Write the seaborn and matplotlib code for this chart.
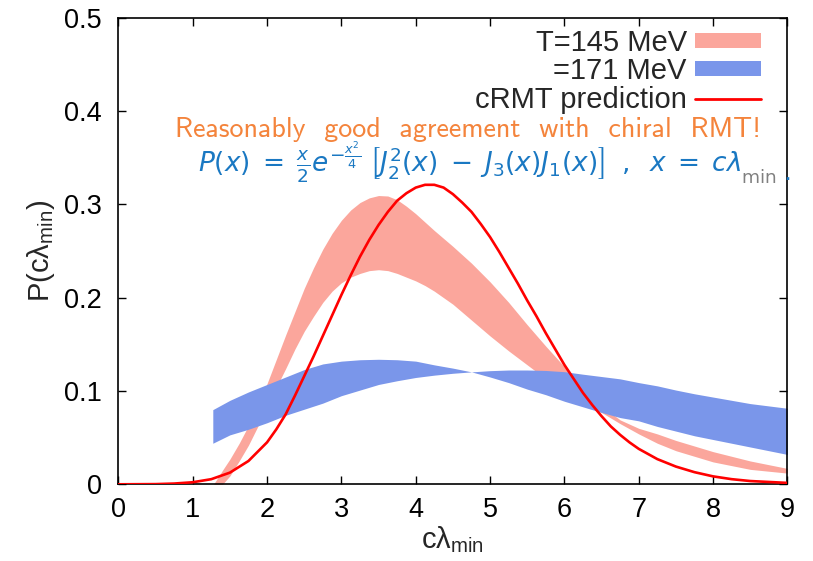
import matplotlib
matplotlib.use('Agg')
import matplotlib.pyplot as plt
from matplotlib.patches import Patch
from matplotlib.lines import Line2D
import seaborn as sns

# cRMT prediction (red curve)
rmt_x = [0.0, 0.5, 0.75, 1.0, 1.25, 1.5, 1.75, 2.0, 2.125, 2.25, 2.375, 2.5, 2.625, 2.75,
         2.875, 3.0, 3.125, 3.25, 3.375, 3.5, 3.625, 3.75, 3.875, 4.0, 4.125, 4.25,
         4.375, 4.5, 4.625, 4.75, 4.875, 5.0, 5.125, 5.25, 5.375, 5.5, 5.625, 5.75,
         5.875, 6.0, 6.125, 6.25, 6.375, 6.5, 6.625, 6.75, 6.875, 7.0, 7.25, 7.5, 7.75,
         8.0, 8.25, 8.5, 8.75, 9.0]
rmt_y = [0.0, 0.0002, 0.0008, 0.0022, 0.0055, 0.0125, 0.025, 0.045, 0.059, 0.075, 0.095,
         0.116, 0.137, 0.159, 0.181, 0.203, 0.224, 0.244, 0.262, 0.278, 0.292, 0.304,
         0.312, 0.318, 0.321, 0.321, 0.318, 0.311, 0.302, 0.292, 0.279, 0.265, 0.249,
         0.232, 0.215, 0.197, 0.180, 0.162, 0.145, 0.128, 0.113, 0.098, 0.085, 0.073,
         0.062, 0.053, 0.045, 0.038, 0.027, 0.019, 0.013, 0.0085, 0.0055, 0.0035,
         0.0025, 0.0015]

# T=145 MeV band
t145_x = [1.28, 1.40, 1.5, 1.625, 1.75, 1.875, 2.0, 2.125, 2.25, 2.375, 2.5, 2.625, 2.75,
          2.875, 3.0, 3.125, 3.25, 3.375, 3.5, 3.625, 3.75, 3.875, 4.0, 4.125, 4.25, 4.5,
          4.75, 5.0, 5.25, 5.5, 5.75, 6.0, 6.25, 6.5, 6.75, 7.0, 7.25, 7.5, 7.75, 8.0,
          8.25, 8.5, 8.75, 9.0]
t145_hi = [0.0, 0.015, 0.027, 0.044, 0.063, 0.085, 0.108, 0.134, 0.160, 0.185, 0.210,
           0.232, 0.252, 0.269, 0.283, 0.294, 0.302, 0.307, 0.3095, 0.309, 0.305, 0.298,
           0.290, 0.281, 0.272, 0.255, 0.237, 0.217, 0.195, 0.171, 0.148, 0.126, 0.104,
           0.084, 0.069, 0.060, 0.054, 0.047, 0.041, 0.035, 0.030, 0.025, 0.021, 0.017]
t145_lo = [0.0, 0.0, 0.009, 0.025, 0.042, 0.062, 0.083, 0.104, 0.124, 0.145, 0.164,
           0.180, 0.195, 0.207, 0.216, 0.222, 0.226, 0.229, 0.230, 0.229, 0.226, 0.222,
           0.218, 0.213, 0.207, 0.193, 0.176, 0.159, 0.143, 0.128, 0.113, 0.100, 0.088,
           0.077, 0.065, 0.054, 0.044, 0.036, 0.030, 0.024, 0.020, 0.016, 0.014, 0.012]

# T=171 MeV band (the two edges cross near 4.75)
t171_x = [1.27, 1.5, 1.75, 2.0, 2.25, 2.5, 2.75, 3.0, 3.25, 3.5, 3.75, 4.0, 4.25, 4.5,
          4.75, 5.0, 5.25, 5.5, 5.75, 6.0, 6.25, 6.5, 6.75, 7.0, 7.25, 7.5, 7.75, 8.0,
          8.25, 8.5, 8.75, 9.0]
t171_a = [0.080, 0.090, 0.099, 0.107, 0.115, 0.123, 0.129, 0.132, 0.1335, 0.134, 0.1335,
          0.132, 0.128, 0.1245, 0.1205, 0.115, 0.109, 0.102, 0.096, 0.089, 0.083, 0.077,
          0.0715, 0.068, 0.062, 0.057, 0.052, 0.048, 0.044, 0.040, 0.036, 0.032]
t171_b = [0.044, 0.053, 0.059, 0.066, 0.074, 0.0805, 0.087, 0.095, 0.101, 0.107, 0.111,
          0.1145, 0.117, 0.119, 0.1205, 0.1218, 0.1225, 0.1225, 0.122, 0.1207, 0.118,
          0.1155, 0.113, 0.109, 0.1055, 0.101, 0.097, 0.0935, 0.090, 0.0865, 0.084, 0.0815]

x_ticks = [0, 1, 2, 3, 4, 5, 6, 7, 8, 9]
y_ticks = [0, 0.1, 0.2, 0.3, 0.4, 0.5]
y_ticklabels = ['0', '0.1', '0.2', '0.3', '0.4', '0.5']

salmon = '#fba69c'
blue = '#7a96ea'

sns.set_theme(style='ticks')
plt.rcParams['font.family'] = ['Liberation Sans', 'DejaVu Sans']
plt.rcParams['mathtext.fontset'] = 'custom'
plt.rcParams['mathtext.rm'] = 'Liberation Sans'
plt.rcParams['mathtext.it'] = 'Liberation Sans:italic'

fig = plt.figure(figsize=(8.13, 5.61), dpi=100)
ax = fig.add_axes([118.4 / 813, (561 - 484.3) / 561, 669 / 813, 466.5 / 561])

ax.fill_between(t145_x, t145_lo, t145_hi, color=salmon, lw=0, zorder=1)
ax.fill_between(t171_x, t171_a, t171_b, color=blue, lw=0, zorder=2)
sns.lineplot(x=rmt_x, y=rmt_y, color='red', lw=1.9, ax=ax, zorder=3)

ax.set_xlim(0, 9)
ax.set_ylim(0, 0.5)
ax.set_xticks(x_ticks)
ax.set_yticks(y_ticks)
ax.set_yticklabels(y_ticklabels)
ax.tick_params(direction='in', length=6, width=1, top=True, right=True,
               labelsize=19.5, colors='black')
ax.tick_params(axis='x', pad=9)
ax.tick_params(axis='y', pad=12)
for sp in ax.spines.values():
    sp.set_visible(True)
    sp.set_color('black')
    sp.set_linewidth(1.2)

ax.set_xlabel('cλ$_{\\mathrm{min}}$', fontsize=21, labelpad=1)
ax.set_ylabel('P(cλ$_{\\mathrm{min}}$)', fontsize=21, labelpad=5)

handles = [Patch(facecolor=salmon, edgecolor='none'),
           Patch(facecolor=blue, edgecolor='none'),
           Line2D([], [], color='red', lw=2)]
labels = ['T=145 MeV', '=171 MeV', 'cRMT prediction']
ax.legend(handles, labels, loc='upper right', bbox_to_anchor=(0.960, 0.976),
          frameon=False, markerfirst=False, fontsize=21, handlelength=2.25,
          handleheight=0.4, handletextpad=0.28, labelspacing=0.01,
          borderpad=0, borderaxespad=0)

fig.text(175 / 813, 1 - 137 / 561, 'Reasonably  good  agreement  with  chiral  RMT!',
         family='cmss10', fontsize=20.2, color='#f4843c', ha='left', va='baseline')
formula = fig.text(198 / 813, 1 - 172 / 561,
                   r'$P(x)\;=\;\frac{x}{2}e^{-\frac{x^2}{4}}\;\left[J_2^2(x)\;-\;J_3(x)J_1(x)\right]\;\;,\;\;x\;=\;c\lambda$',
                   math_fontfamily='dejavusans', fontsize=19, color='#1a78c2',
                   ha='left', va='baseline')
sub = ax.annotate(r'$_{\mathrm{min}}$', xy=(1, 0), xycoords=formula,
                  math_fontfamily='dejavusans', fontsize=19, color='#808080',
                  ha='left', va='bottom', annotation_clip=False)
ax.annotate(' .', xy=(1, 0), xycoords=sub, fontsize=19, color='#1a78c2',
            ha='left', va='bottom', annotation_clip=False)

plt.savefig('out.png', dpi=100)
